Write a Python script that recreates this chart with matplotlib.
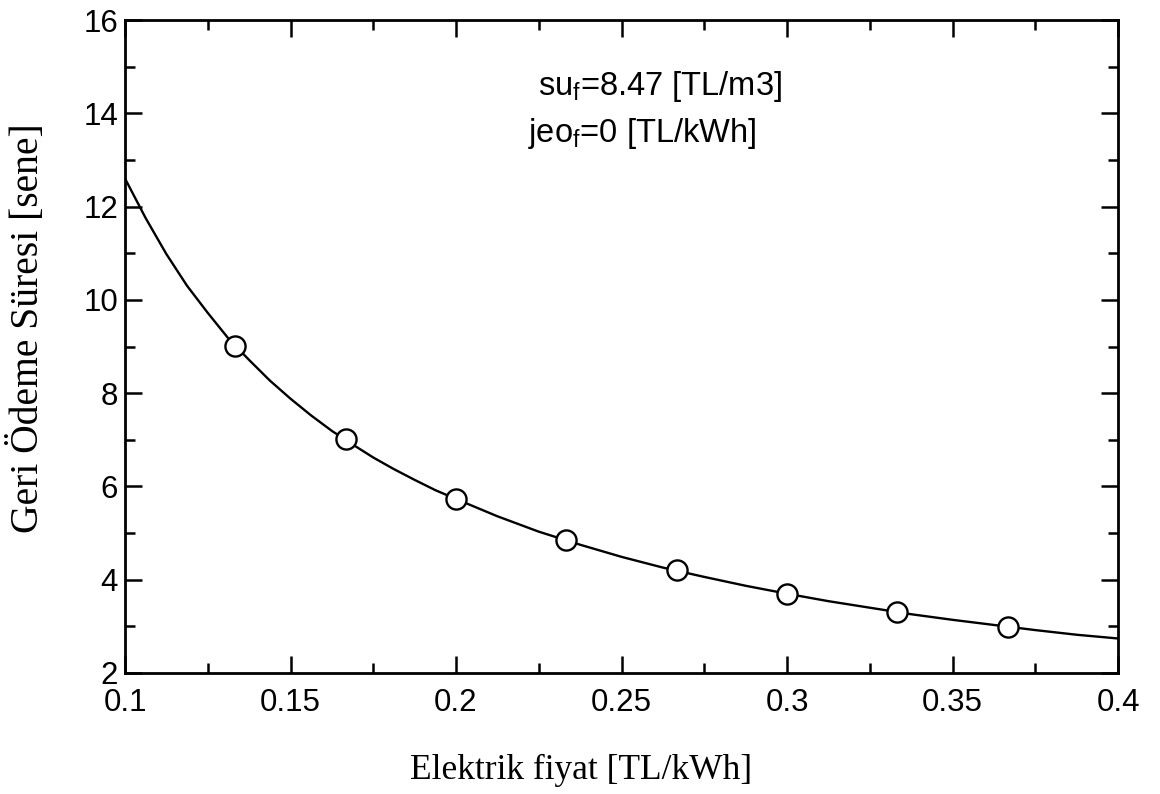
import matplotlib
matplotlib.use("Agg")
import matplotlib.pyplot as plt
from matplotlib.ticker import MultipleLocator

# curve
curve_x = [0.1, 0.10625, 0.1125, 0.11875, 0.125, 0.13125, 0.1375, 0.14375, 0.15,
           0.15625, 0.1625, 0.16875, 0.175, 0.18125, 0.1875, 0.19375, 0.2, 0.2125,
           0.225, 0.2375, 0.25, 0.2625, 0.275, 0.2875, 0.3, 0.3125, 0.325, 0.3375,
           0.35, 0.3625, 0.375, 0.3875, 0.4]
curve_y = [12.6, 11.75, 10.98, 10.30, 9.72, 9.17, 8.71, 8.27, 7.88,
           7.52, 7.19, 6.90, 6.62, 6.37, 6.14, 5.92, 5.73, 5.36,
           5.03, 4.75, 4.49, 4.26, 4.06, 3.87, 3.70, 3.54, 3.40, 3.26,
           3.14, 3.03, 2.92, 2.82, 2.74]

# circle markers
point_x = [0.1333, 0.1667, 0.2, 0.2333, 0.2667, 0.3, 0.3333, 0.3667]
point_y = [9.01, 7.01, 5.74, 4.85, 4.21, 3.69, 3.31, 2.99]

xtick_vals = [0.1, 0.15, 0.2, 0.25, 0.3, 0.35, 0.4]
xtick_text = ["0.1", "0.15", "0.2", "0.25", "0.3", "0.35", "0.4"]

SANS = "Liberation Sans"
SERIF = "Liberation Serif"

plt.rcParams["font.family"] = SANS
plt.rcParams["mathtext.fontset"] = "custom"
plt.rcParams["mathtext.rm"] = SANS

fig = plt.figure(figsize=(11.6, 7.94), dpi=100)
ax = fig.add_axes([0.1078, 0.1524, 0.856, 0.8224])

ax.plot(curve_x, curve_y, color="black", lw=1.7, zorder=2)
ax.plot(point_x, point_y, "o", ms=14.5, mfc="white", mec="black", mew=1.7, zorder=3)

ax.set_xlim(0.1, 0.4)
ax.set_ylim(2, 16)
ax.set_xticks(xtick_vals)
ax.set_xticklabels(xtick_text)
ax.xaxis.set_minor_locator(MultipleLocator(0.025))
ax.yaxis.set_major_locator(MultipleLocator(2))
ax.yaxis.set_minor_locator(MultipleLocator(1))

ax.tick_params(which="both", direction="in", top=True, right=True, width=1.8, color="black")
ax.tick_params(which="major", length=12, labelsize=22.5)
ax.tick_params(which="minor", length=7)
ax.tick_params(axis="x", pad=11)
ax.tick_params(axis="y", pad=5)
for s in ax.spines.values():
    s.set_linewidth(2)

ax.text(0.2248, 14.39, r"$\mathregular{su_f}$=8.47 [TL/m3]", fontsize=23.5,
        ha="left", va="baseline")
ax.text(0.2218, 13.39, r"$\mathregular{jeo_f}$=0 [TL/kWh]", fontsize=23.5,
        ha="left", va="baseline")

fig.text(0.5009, 0.0302, "Elektrik fiyat [TL/kWh]", family=SERIF, fontsize=25.5,
         ha="center", va="center")
fig.text(0.0241, 0.587, "Geri Ödeme Süresi [sene]", family=SERIF, fontsize=28.5,
         ha="center", va="center", rotation=90)

fig.savefig("out.png", dpi=100)
